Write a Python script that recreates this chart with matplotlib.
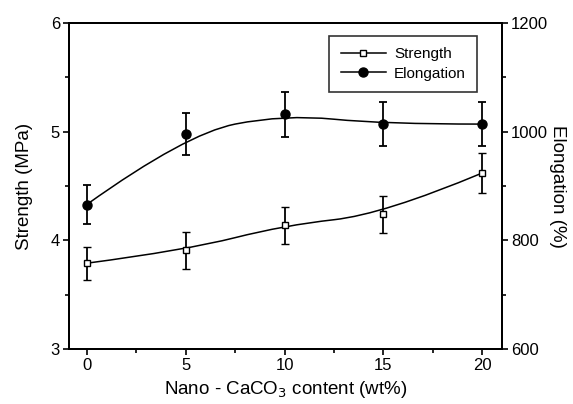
import numpy as np
import matplotlib.pyplot as plt
from matplotlib.path import Path
from matplotlib.patches import PathPatch

plt.rcParams['font.family'] = ['Liberation Sans', 'DejaVu Sans']

# ── Data ──────────────────────────────────────────────────────────────────
content = [0, 5, 10, 15, 20]                       # nano-CaCO3, wt%
strength = [3.79, 3.91, 4.14, 4.24, 4.62]          # MPa
strength_err = [0.15, 0.17, 0.17, 0.17, 0.18]
elongation = [866, 996, 1032, 1014, 1014]          # %
elongation_err = [36, 39, 41, 41, 41]


def bspline_path(x, y):
    """Quadratic B-spline with the data points as control points (Origin style)."""
    pts = np.column_stack([x, y]).astype(float)
    verts = [pts[0]]
    codes = [Path.MOVETO]
    for i in range(1, len(pts) - 1):
        end = pts[i + 1] if i == len(pts) - 2 else (pts[i] + pts[i + 1]) / 2
        verts += [pts[i], end]
        codes += [Path.CURVE3, Path.CURVE3]
    return Path(verts, codes)


fig = plt.figure(figsize=(5.73, 4.04), dpi=100)
ax = fig.add_axes([0.1204, 0.136, 0.7557, 0.807])
ax2 = ax.twinx()

# ── Strength (left axis) ──────────────────────────────────────────────────
ax.add_patch(PathPatch(bspline_path(content, strength), fill=False,
                       edgecolor='black', lw=1.1))
ax.errorbar(content, strength, yerr=strength_err, fmt='s', ms=4.2,
            mfc='white', mec='black', mew=1.0, ecolor='black',
            elinewidth=1.3, capsize=2.8, capthick=1.3)
s_handle, = ax.plot([], [], color='black', lw=1.1, marker='s', ms=4.2,
                    mfc='white', mec='black', label='Strength')

# ── Elongation (right axis) ───────────────────────────────────────────────
ax2.add_patch(PathPatch(bspline_path(content, elongation), fill=False,
                        edgecolor='black', lw=1.1))
ax2.errorbar(content, elongation, yerr=elongation_err, fmt='o', ms=6.5,
             mfc='black', mec='black', ecolor='black',
             elinewidth=1.3, capsize=2.8, capthick=1.3)
e_handle, = ax2.plot([], [], color='black', lw=1.1, marker='o', ms=6.5,
                     mfc='black', mec='black', label='Elongation')

# ── Axes ──────────────────────────────────────────────────────────────────
ax.set_xlim(-0.9, 21)
ax.set_ylim(3, 6)
ax2.set_ylim(600, 1200)

ax.set_xticks([0, 5, 10, 15, 20])
ax.set_xticks([2.5, 7.5, 12.5, 17.5], minor=True)
ax.set_yticks([3, 4, 5, 6])
ax.set_yticks([3.5, 4.5, 5.5], minor=True)
ax2.set_yticks([600, 800, 1000, 1200])
ax2.set_yticks([700, 900, 1100], minor=True)

for a in (ax, ax2):
    a.tick_params(which='major', direction='out', length=4.5, width=1.2,
                  labelsize=12, colors='black', pad=2)
    a.tick_params(which='minor', direction='out', length=3, width=1.2)
    for sp in a.spines.values():
        sp.set_linewidth(1.4)

ax.set_xlabel(r'Nano - CaCO$_3$ content (wt%)', fontsize=13.5, labelpad=4)
ax.set_ylabel('Strength (MPa)', fontsize=13.5, labelpad=13)
ax2.set_ylabel('Elongation (%)', fontsize=13.5, rotation=270, labelpad=13)

leg = ax.legend(handles=[s_handle, e_handle], loc='upper left',
                bbox_to_anchor=(0.59, 0.975), fontsize=11, frameon=True,
                fancybox=False, edgecolor='black', handlelength=3.0,
                handletextpad=0.5, borderpad=0.75, labelspacing=0.35,
                borderaxespad=0.3)
leg.get_frame().set_linewidth(1.2)

plt.savefig('out.png', dpi=100)
